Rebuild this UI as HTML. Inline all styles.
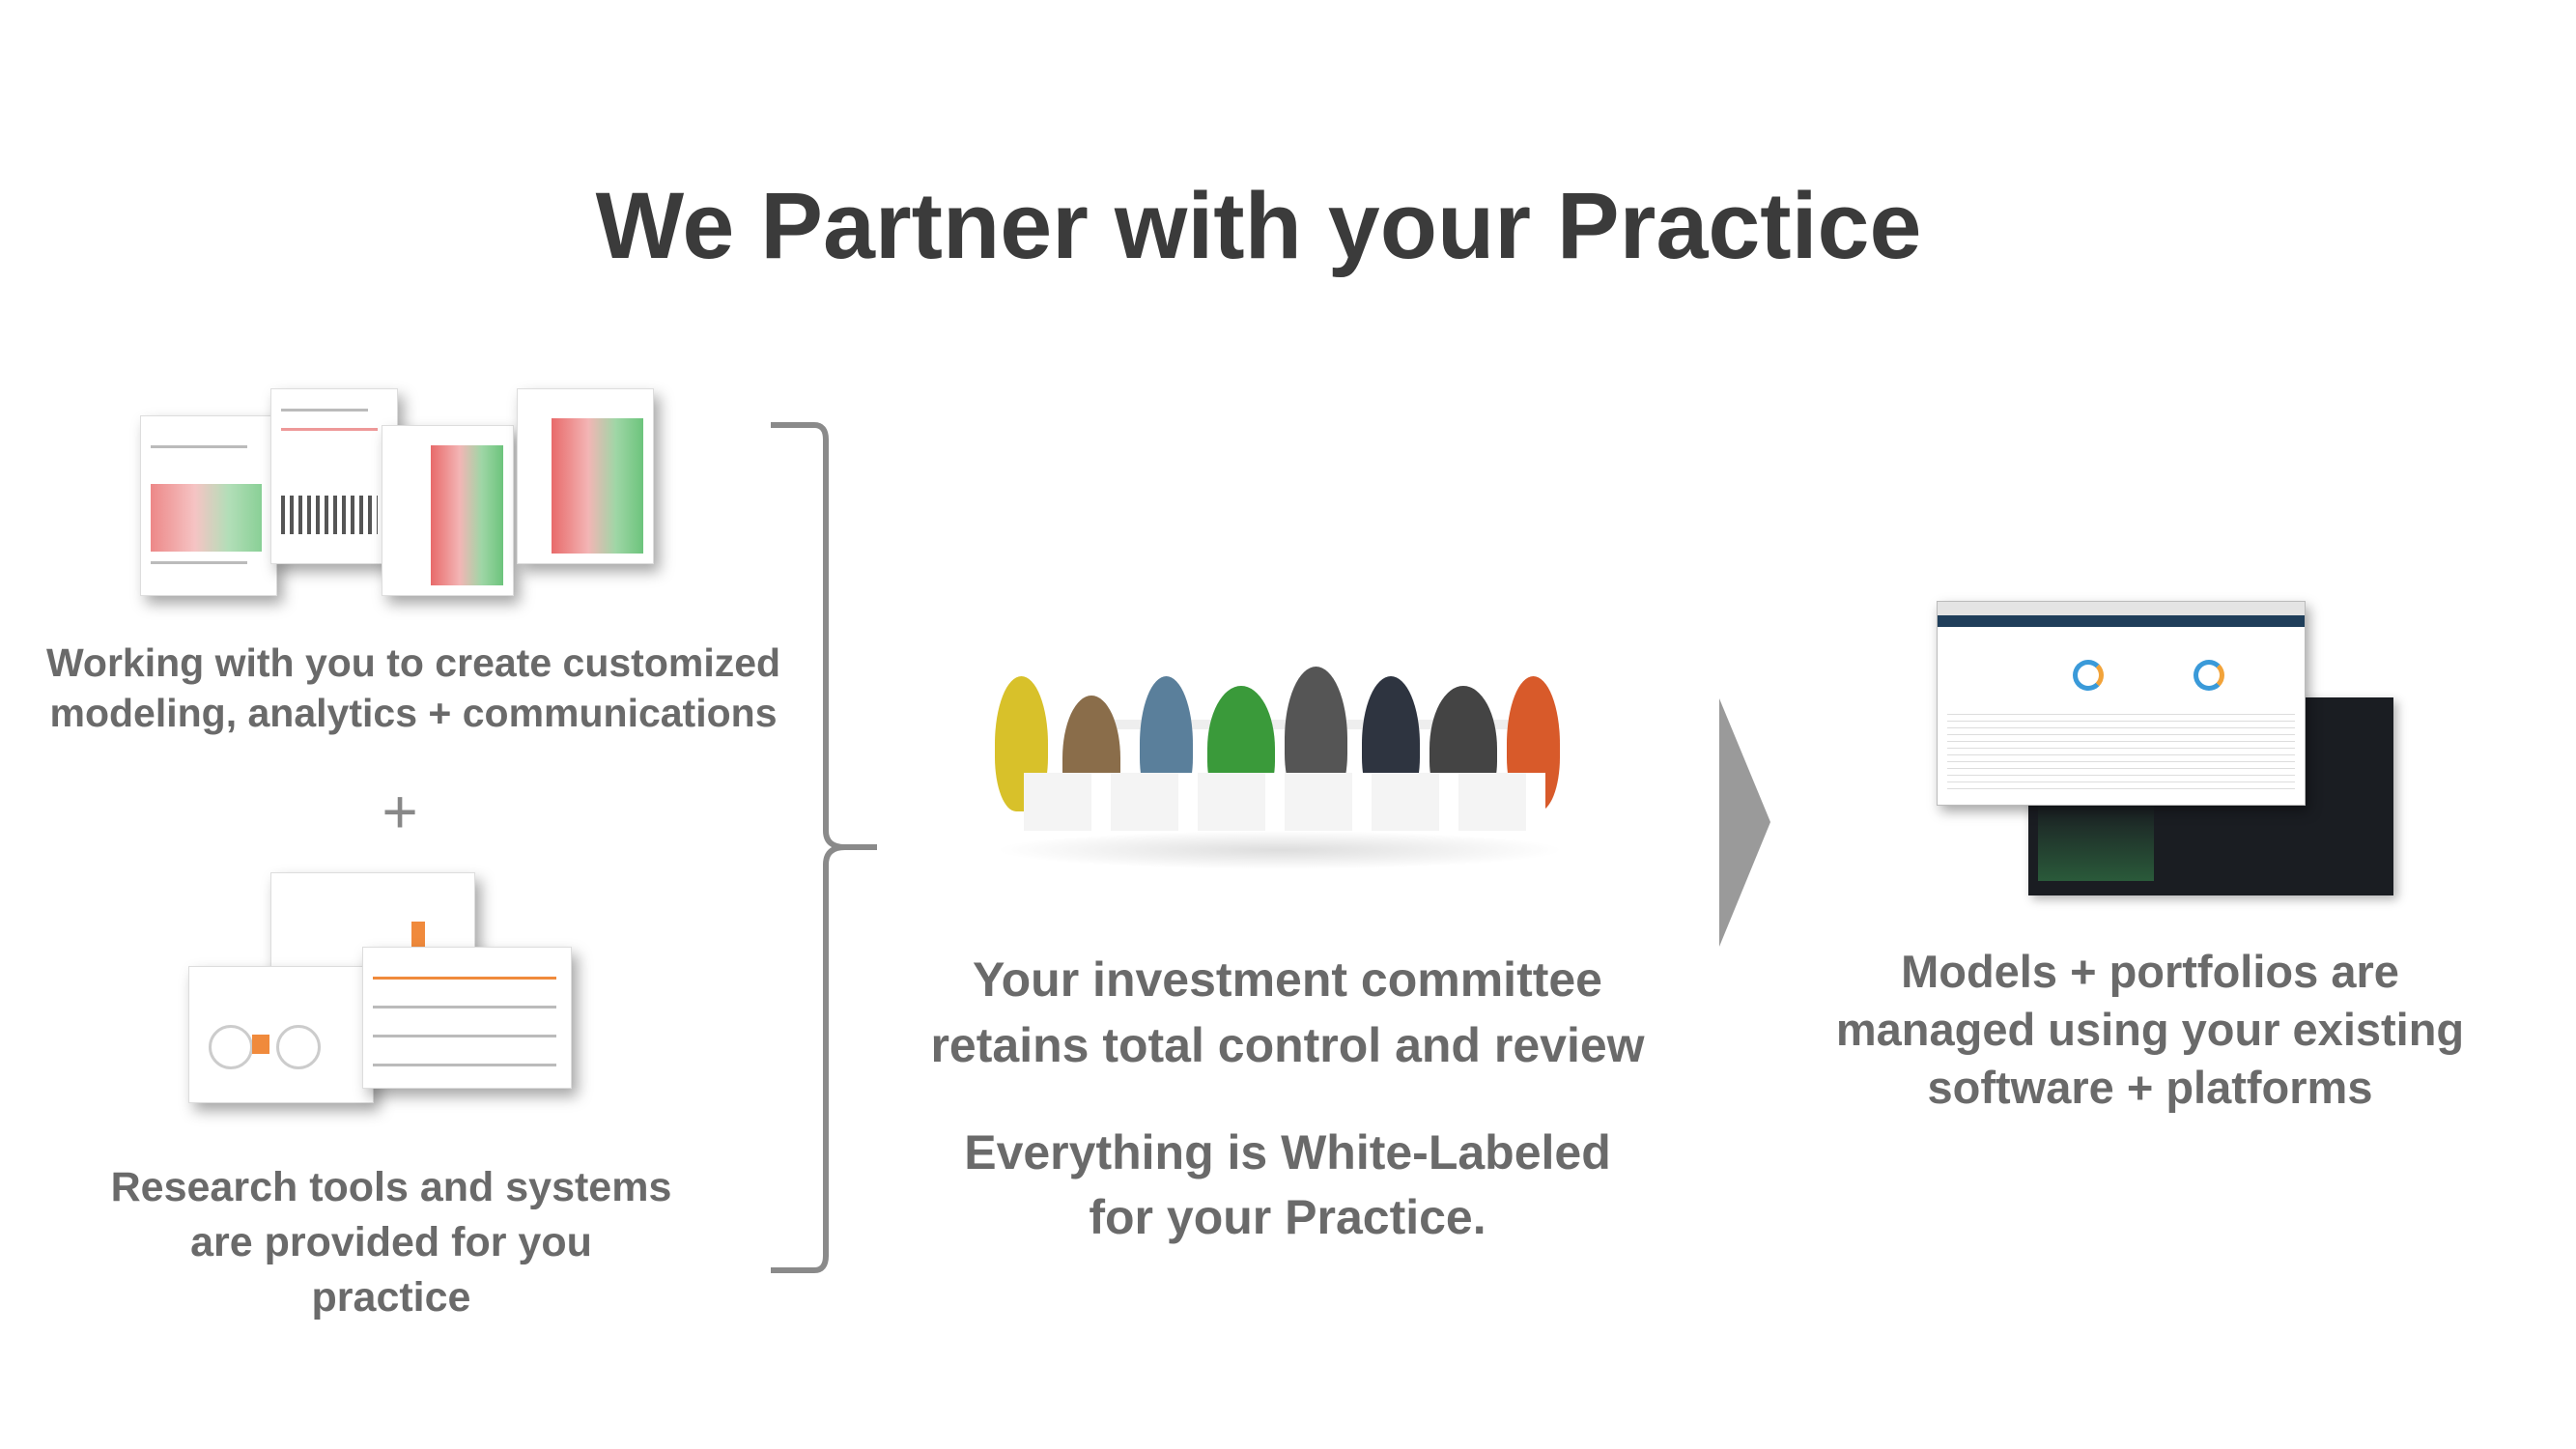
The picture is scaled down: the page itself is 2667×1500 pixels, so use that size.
<!DOCTYPE html>
<html><head><meta charset="utf-8"><style>
body{margin:0;width:2667px;height:1500px;background:#fff;position:relative;overflow:hidden;font-family:"Liberation Sans",sans-serif;}
.t{position:absolute;text-align:center;color:#6a6a6a;font-weight:bold;white-space:nowrap;transform:translateX(-50%);}
.doc{position:absolute;background:#fff;box-shadow:6px 8px 14px rgba(0,0,0,.35);border:1px solid #ddd;overflow:hidden}
.red{position:absolute;background:linear-gradient(90deg,#e86a6a,#f3b5b5 40%,#9fd6a6 70%,#6cc47c)}
.line{position:absolute;height:3px;background:#bbb}
.p{position:absolute;border-radius:50% 50% 40% 40%}
</style></head><body>
<div class="t" style="left:1303px;top:178px;font-size:97px;color:#3b3b3b;">We Partner with your Practice</div>

<div class="doc" style="left:145px;top:430px;width:140px;height:185px"><div class="red" style="left:10px;top:70px;width:115px;height:70px;opacity:.8"></div><div class="line" style="left:10px;top:30px;width:100px"></div><div class="line" style="left:10px;top:150px;width:100px"></div></div>
<div class="doc" style="left:280px;top:402px;width:130px;height:180px"><div class="line" style="left:10px;top:20px;width:90px"></div><div class="line" style="left:10px;top:40px;width:100px;background:#e99"></div><div style="position:absolute;left:10px;top:110px;width:100px;height:40px;background:repeating-linear-gradient(90deg,#555 0 4px,#fff 4px 9px)"></div></div>
<div class="doc" style="left:395px;top:440px;width:135px;height:175px"><div class="red" style="left:50px;top:20px;width:75px;height:145px"></div></div>
<div class="doc" style="left:535px;top:402px;width:140px;height:180px"><div class="red" style="left:35px;top:30px;width:95px;height:140px"></div></div>

<div class="t" style="left:428px;top:660px;font-size:41px;line-height:52px">Working with you to create customized<br>modeling, analytics + communications</div>
<div class="t" style="left:414px;top:803px;font-size:64px;color:#888;font-weight:normal">+</div>

<div class="doc" style="left:280px;top:903px;width:210px;height:130px"><div style="position:absolute;left:145px;top:50px;width:14px;height:30px;background:#f08a3c"></div></div>
<div class="doc" style="left:195px;top:1000px;width:190px;height:140px"><div style="position:absolute;left:20px;top:60px;width:40px;height:40px;border-radius:50%;border:3px solid #ccc"></div><div style="position:absolute;left:65px;top:70px;width:18px;height:20px;background:#f08a3c"></div><div style="position:absolute;left:90px;top:60px;width:40px;height:40px;border-radius:50%;border:3px solid #ccc"></div></div>
<div class="doc" style="left:375px;top:980px;width:215px;height:145px"><div class="line" style="left:10px;top:30px;width:190px;background:#f08a3c"></div><div class="line" style="left:10px;top:60px;width:190px"></div><div class="line" style="left:10px;top:90px;width:190px"></div><div class="line" style="left:10px;top:120px;width:190px"></div></div>

<div class="t" style="left:405px;top:1201px;font-size:43px;line-height:57px">Research tools and systems<br>are provided for you<br>practice</div>

<svg style="position:absolute;left:0;top:0" width="2667" height="1500">
<path d="M798 440 L843 440 Q855 440 855 455 L855 860 Q855 877 875 877 L908 877 M875 877 Q855 877 855 895 L855 1300 Q855 1315 843 1315 L798 1315" fill="none" stroke="#8a8a8a" stroke-width="6"/>
<polygon points="1780,723 1833,851 1780,980" fill="#9a9a9a"/>
</svg>

<div style="position:absolute;left:1030px;top:860px;width:590px;height:40px;border-radius:50%;background:radial-gradient(#ddd,#fff 70%)"></div>
<div style="position:absolute;left:1110px;top:745px;width:460px;height:10px;background:#eee"></div>
<div class="p" style="left:1030px;top:700px;width:55px;height:140px;background:#d8c12a"></div>
<div class="p" style="left:1100px;top:720px;width:60px;height:130px;background:#8a6d4a"></div>
<div class="p" style="left:1180px;top:700px;width:55px;height:140px;background:#5a7f9b"></div>
<div class="p" style="left:1250px;top:710px;width:70px;height:130px;background:#3a9a3a"></div>
<div class="p" style="left:1330px;top:690px;width:65px;height:150px;background:#555"></div>
<div class="p" style="left:1410px;top:700px;width:60px;height:140px;background:#2e3440"></div>
<div class="p" style="left:1480px;top:710px;width:70px;height:130px;background:#444"></div>
<div class="p" style="left:1560px;top:700px;width:55px;height:140px;background:#d85a2a"></div>
<div style="position:absolute;left:1060px;top:800px;width:540px;height:60px;background:repeating-linear-gradient(90deg,#f4f4f4 0 70px,#fff 70px 90px)"></div>

<div class="t" style="left:1333px;top:980px;font-size:50px;line-height:68px">Your investment committee<br>retains total control and review</div>
<div class="t" style="left:1333px;top:1160px;font-size:50px;line-height:67px">Everything is White-Labeled<br>for your Practice.</div>

<div style="position:absolute;left:2100px;top:722px;width:378px;height:205px;background:#1a1d22;box-shadow:4px 4px 10px rgba(0,0,0,.3)"><div style="position:absolute;left:10px;top:110px;width:120px;height:80px;background:linear-gradient(#1a1d22,#2a5a3a)"></div></div>
<div style="position:absolute;left:2005px;top:622px;width:380px;height:210px;background:#fff;border:1px solid #bbb;box-shadow:4px 6px 12px rgba(0,0,0,.35)"><div style="height:14px;background:#e4e4e4"></div><div style="height:12px;background:#1f3e5a"></div><div style="position:absolute;left:140px;top:60px;width:22px;height:22px;border-radius:50%;border:5px solid #3a9ad9;border-right-color:#f2a33a"></div><div style="position:absolute;left:265px;top:60px;width:22px;height:22px;border-radius:50%;border:5px solid #3a9ad9;border-right-color:#f2a33a"></div><div style="position:absolute;left:10px;top:110px;width:360px;height:90px;background:repeating-linear-gradient(#fff 0 6px,#ddd 6px 7px)"></div></div>

<div class="t" style="left:2226px;top:976px;font-size:47px;line-height:60px">Models + portfolios are<br>managed using your existing<br>software + platforms</div>
</body></html>
